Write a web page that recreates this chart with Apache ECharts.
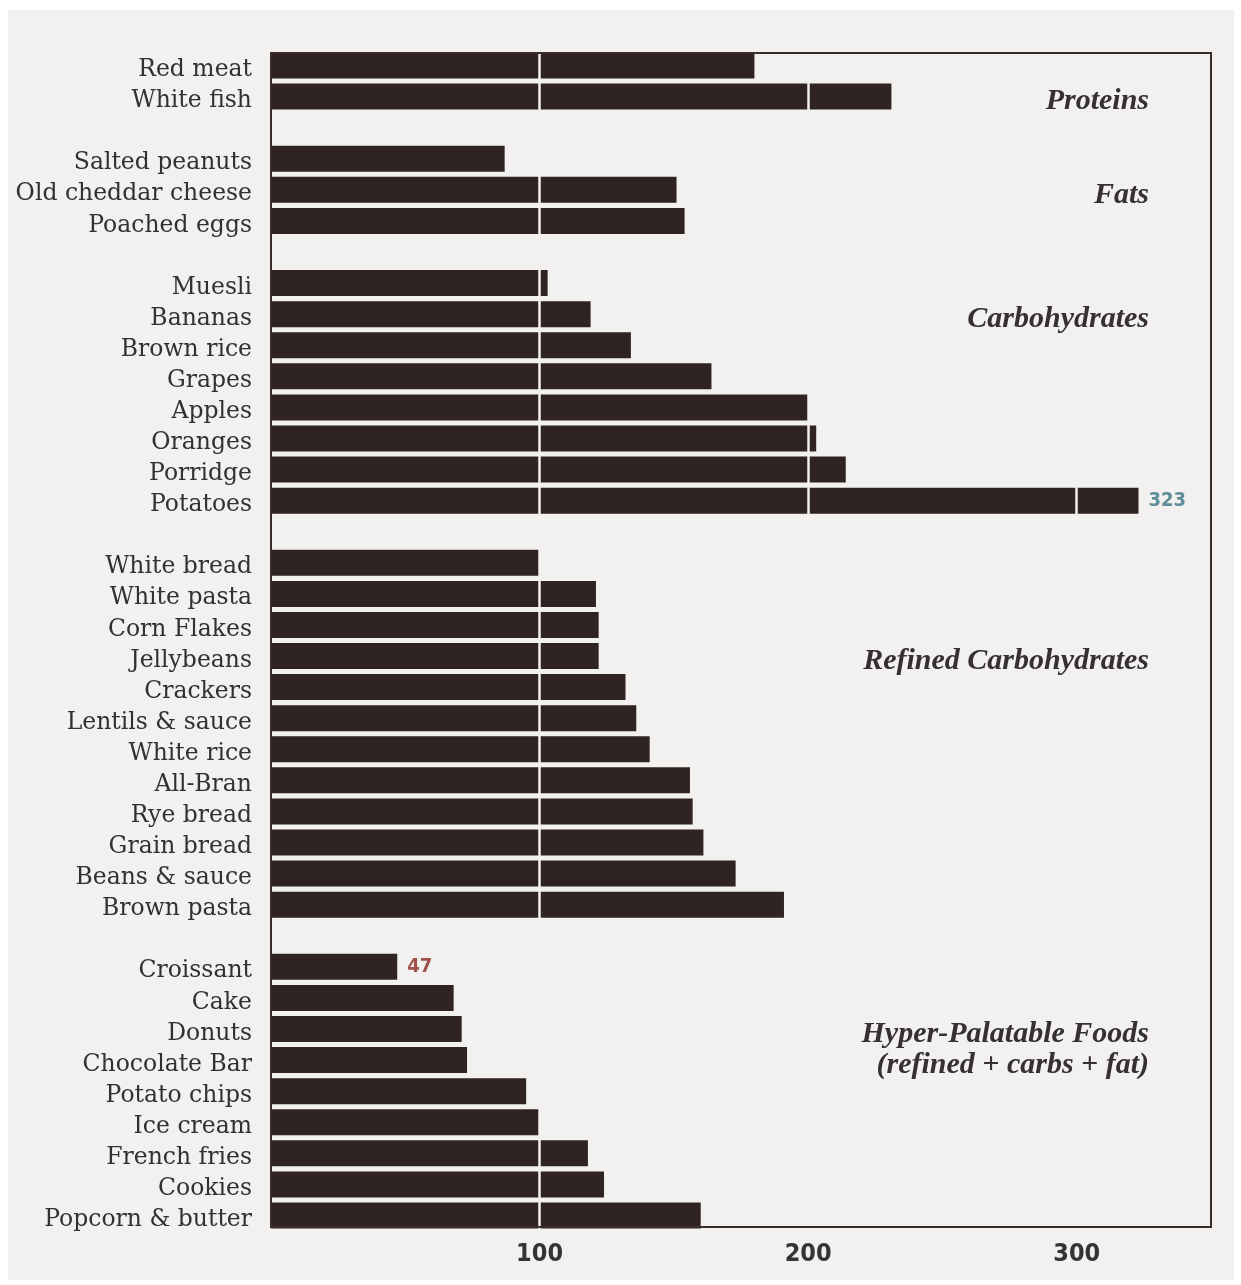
<!DOCTYPE html>
<html>
<head>
<meta charset="utf-8">
<script src="https://cdn.jsdelivr.net/npm/echarts@6/dist/echarts.min.js"></script>
<style>
html,body{margin:0;padding:0;background:#ffffff;}
#paper{position:absolute;left:8px;top:10px;width:1226px;height:1270px;background:#f2f1ef;}
#chart{position:absolute;left:0;top:0;width:1241px;height:1285px;}
</style>
</head>
<body>
<div id="paper"></div>
<div id="chart"></div>
<script>
// ---- data ----
const proteinNames = ['Red meat', 'White fish'];
const proteinValues = [180, 231];
const fatNames = ['Salted peanuts', 'Old cheddar cheese', 'Poached eggs'];
const fatValues = [87, 151, 154];
const carbNames = ['Muesli', 'Bananas', 'Brown rice', 'Grapes', 'Apples', 'Oranges', 'Porridge', 'Potatoes'];
const carbValues = [103, 119, 134, 164, 200, 203, 214, 323];
const refinedNames = ['White bread', 'White pasta', 'Corn Flakes', 'Jellybeans', 'Crackers', 'Lentils & sauce', 'White rice', 'All-Bran', 'Rye bread', 'Grain bread', 'Beans & sauce', 'Brown pasta'];
const refinedValues = [100, 121, 122, 122, 132, 136, 141, 156, 157, 161, 173, 191];
const hyperNames = ['Croissant', 'Cake', 'Donuts', 'Chocolate Bar', 'Potato chips', 'Ice cream', 'French fries', 'Cookies', 'Popcorn & butter'];
const hyperValues = [47, 68, 71, 73, 95, 100, 118, 124, 160];
const xTicks = [100, 200, 300];
// group captions, placed on the row of the named category
const groupCaptions = {
  'White fish': 'Proteins',
  'Old cheddar cheese': 'Fats',
  'Bananas': 'Carbohydrates',
  'Jellybeans': 'Refined Carbohydrates',
  'Donuts': 'Hyper-Palatable Foods',
  'Chocolate Bar': '(refined + carbs + fat)'
};
// highlighted value labels
const labelColors = { 'Potatoes': '#5f8d9c', 'Croissant': '#9e5148' };

// ---- build categories with gap rows ----
const groups = [
  [proteinNames, proteinValues],
  [fatNames, fatValues],
  [carbNames, carbValues],
  [refinedNames, refinedValues],
  [hyperNames, hyperValues]
];
const categories = [];
const values = [];
groups.forEach(function (g, gi) {
  if (gi > 0) { categories.push('__gap' + gi); values.push('-'); }
  g[0].forEach(function (n, i) { categories.push(n); values.push(g[1][i]); });
});

const numFont = "'Liberation Sans Narrow', 'DejaVu Sans Condensed', sans-serif";

const barData = values.map(function (v, i) {
  const name = categories[i];
  if (labelColors[name]) {
    return {
      value: v,
      label: {
        show: true, position: 'right', distance: 10,
        color: labelColors[name],
        fontFamily: numFont, fontWeight: 'bold', fontSize: 20
      }
    };
  }
  return v;
});

const chart = echarts.init(document.getElementById('chart'), null, { renderer: 'canvas' });
chart.setOption({
  backgroundColor: 'transparent',
  animation: false,
  grid: [{
    // plotting grid (bars touch the frame at top and bottom)
    left: 271, right: 30, top: 50, bottom: 54, show: false
  }, {
    // frame
    left: 271, right: 30, top: 53, bottom: 58, z: 15,
    show: true, borderColor: '#3a2d2b', borderWidth: 2, backgroundColor: 'transparent'
  }],
  xAxis: [{
    type: 'value', gridIndex: 0, min: 0, max: 350, interval: 100, z: 10,
    axisLine: { show: false }, axisTick: { show: false },
    axisLabel: {
      margin: 11,
      color: '#363433',
      fontFamily: numFont, fontWeight: 'bold', fontSize: 25,
      formatter: function (v) { return xTicks.indexOf(v) >= 0 ? String(v) : ''; }
    },
    splitLine: {
      show: true, showMinLine: false, showMaxLine: false,
      lineStyle: { color: '#f2f1ef', width: 2.5 }
    }
  }, {
    type: 'value', gridIndex: 1, min: 0, max: 350, show: false,
    splitLine: { show: false }
  }],
  yAxis: [{
    type: 'category', gridIndex: 0, data: categories, inverse: true,
    axisLine: { show: false }, axisTick: { show: false },
    axisLabel: {
      interval: 0, margin: 19,
      formatter: function (n) { return n.indexOf('__gap') === 0 ? '' : '{t|' + n + '}'; },
      rich: {
        t: {
          color: '#333030', padding: [9, 0, 0, 0],
          fontFamily: "'DejaVu Serif', serif", fontSize: 23.5
        }
      }
    },
    splitLine: { show: false }
  }, {
    type: 'category', gridIndex: 0, data: categories, inverse: true, position: 'right', z: 20,
    axisLine: { show: false }, axisTick: { show: false },
    axisLabel: {
      interval: 0, hideOverlap: false, inside: true, margin: 62,
      formatter: function (n) { return groupCaptions[n] ? '{g|' + groupCaptions[n] + '}' : ''; },
      rich: {
        g: {
          color: '#343130', padding: [10, 0, 0, 0],
          fontFamily: "'Liberation Serif', serif", fontSize: 30,
          fontStyle: 'italic', fontWeight: 'bold'
        }
      }
    },
    splitLine: { show: false }
  }, {
    type: 'category', gridIndex: 1, data: categories, show: false,
    splitLine: { show: false }
  }],
  series: [{
    type: 'bar', xAxisIndex: 0, yAxisIndex: 0, data: barData,
    barWidth: 26,
    itemStyle: { color: '#2f2422' },
    label: { show: false }
  }]
});
</script>
</body>
</html>
